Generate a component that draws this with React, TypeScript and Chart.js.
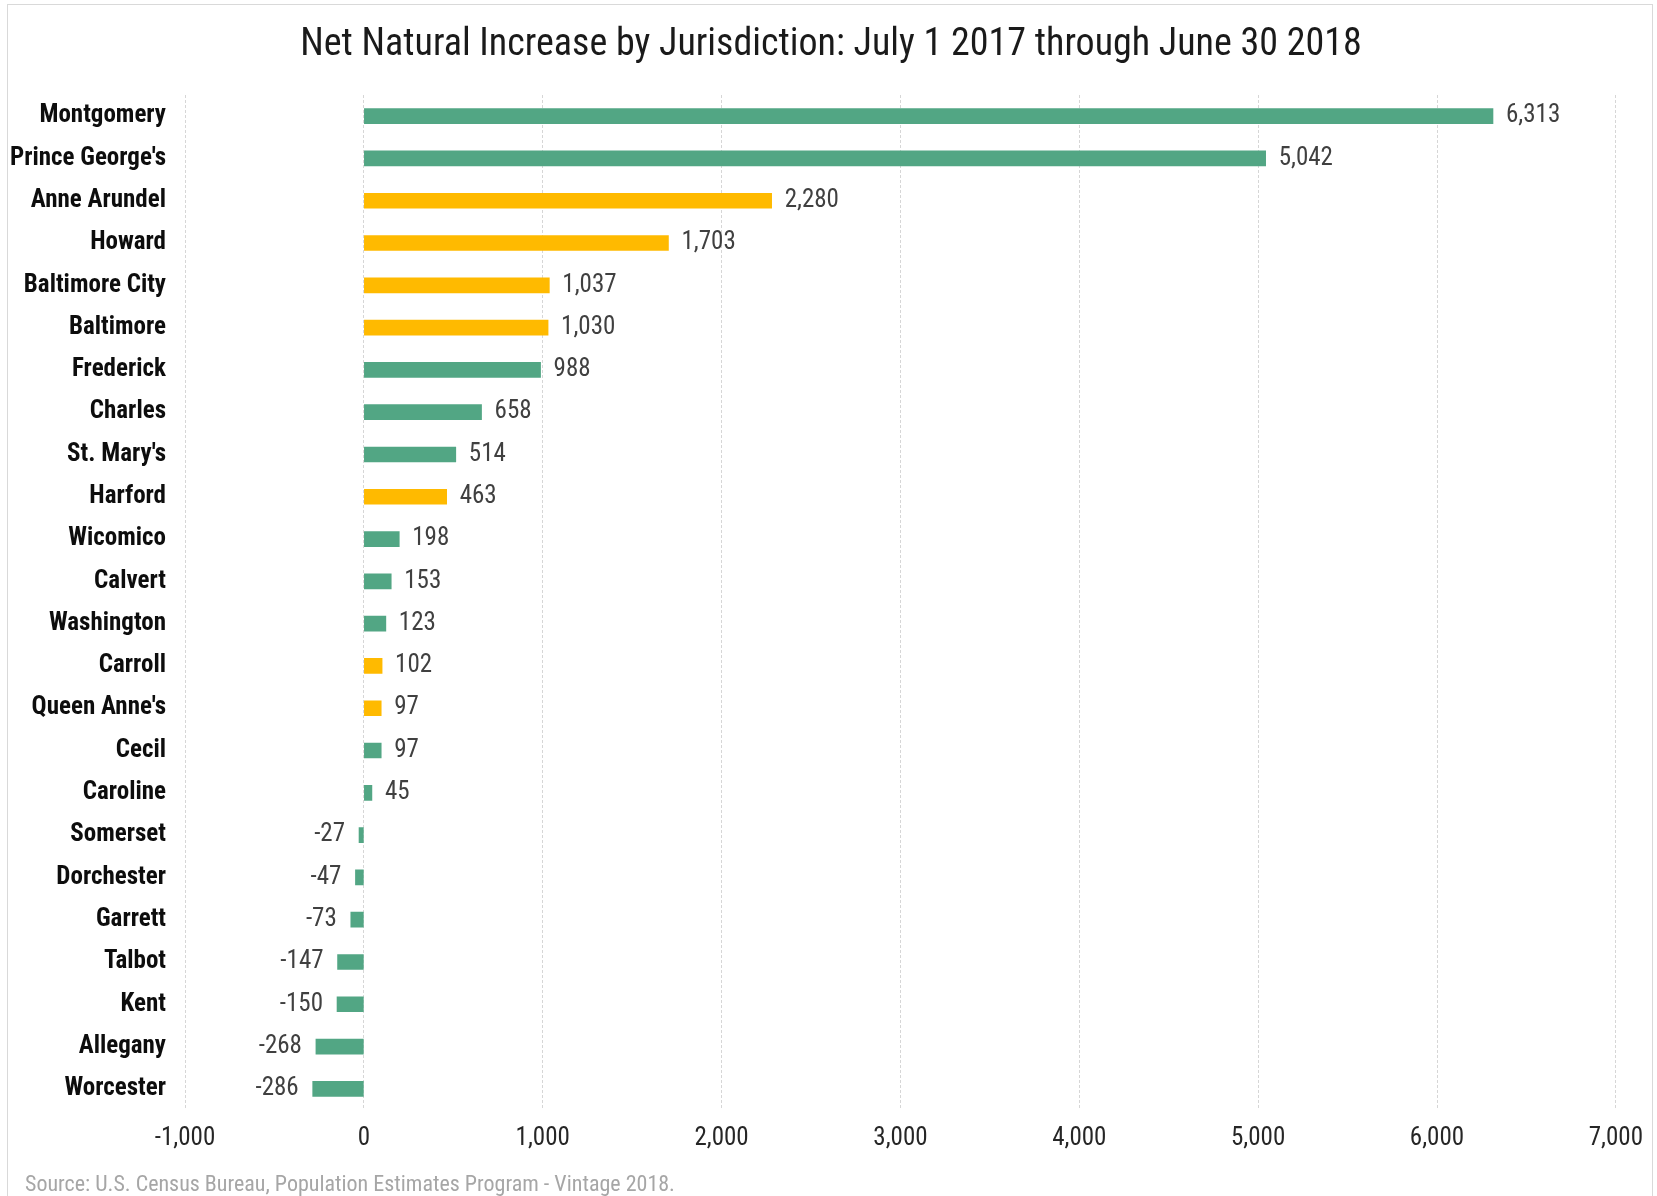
import React, { useEffect, useRef } from "react";
import { Chart, registerables } from "chart.js";

Chart.register(...registerables);

const TITLE = "Net Natural Increase by Jurisdiction: July 1 2017 through June 30 2018";
const SOURCE = "Source: U.S. Census Bureau, Population Estimates Program - Vintage 2018.";

const jurisdictions = [
  "Montgomery", "Prince George's", "Anne Arundel", "Howard", "Baltimore City", "Baltimore",
  "Frederick", "Charles", "St. Mary's", "Harford", "Wicomico", "Calvert", "Washington",
  "Carroll", "Queen Anne's", "Cecil", "Caroline", "Somerset", "Dorchester", "Garrett",
  "Talbot", "Kent", "Allegany", "Worcester",
];

const netIncrease = [
  6313, 5042, 2280, 1703, 1037, 1030, 988, 658, 514, 463, 198, 153, 123, 102, 97, 97, 45,
  -27, -47, -73, -147, -150, -268, -286,
];

// true = highlighted (yellow) jurisdictions
const highlighted = [
  false, false, true, true, true, true, false, false, false, true, false, false, false,
  true, true, false, false, false, false, false, false, false, false, false,
];

const GREEN = "#52A684";
const YELLOW = "#FFBA00";
const COND = '"Roboto Condensed", "Liberation Sans Narrow", "DejaVu Sans Condensed", Roboto, sans-serif';

const fmt = (v: number) => v.toLocaleString("en-US");

const valueLabels = {
  id: "valueLabels",
  afterDatasetsDraw(chart: any) {
    const ctx = chart.ctx;
    const meta = chart.getDatasetMeta(0);
    ctx.save();
    ctx.font = `25px ${COND}`;
    ctx.fillStyle = "#404040";
    ctx.textBaseline = "middle";
    meta.data.forEach((bar: any, i: number) => {
      const v = netIncrease[i];
      if (v >= 0) {
        ctx.textAlign = "left";
        ctx.fillText(fmt(v), bar.x + 13, bar.y);
      } else {
        ctx.textAlign = "right";
        ctx.fillText(fmt(v), bar.x - 14, bar.y);
      }
    });
    ctx.restore();
  },
};

const texts = {
  id: "texts",
  afterDraw(chart: any) {
    const ctx = chart.ctx;
    ctx.save();
    ctx.font = `38px ${COND}`;
    ctx.fillStyle = "#1a1a1a";
    ctx.textAlign = "center";
    ctx.textBaseline = "middle";
    ctx.fillText(TITLE, 831, 45);
    ctx.font = `22px ${COND}`;
    ctx.fillStyle = "#a6a6a6";
    ctx.textAlign = "left";
    ctx.fillText(SOURCE, 25, 1185);
    ctx.restore();
  },
};

export default function App() {
  const ref = useRef<HTMLCanvasElement | null>(null);

  useEffect(() => {
    if (!ref.current) return;
    const chart = new Chart(ref.current, {
      type: "bar",
      data: {
        labels: jurisdictions,
        datasets: [
          {
            data: netIncrease,
            backgroundColor: highlighted.map((h) => (h ? YELLOW : GREEN)),
            barThickness: 15,
            borderWidth: 0,
          },
        ],
      },
      options: {
        indexAxis: "y",
        animation: false,
        responsive: false,
        maintainAspectRatio: false,
        layout: { padding: { left: 0, right: 41, top: 95, bottom: 0 } },
        plugins: {
          legend: { display: false },
          tooltip: { enabled: false },
          title: { display: false },
        },
        scales: {
          x: {
            min: -1000,
            max: 7000,
            ticks: {
              stepSize: 1000,
              color: "#262626",
              font: { family: COND, size: 25 },
              padding: 14,
              callback: (v: any) => fmt(Number(v)),
            },
            grid: { color: "#d6d6d6", lineWidth: 1, drawTicks: false },
            border: { display: false, dash: [3, 2] },
            afterFit: (s: any) => {
              s.height = 86;
            },
          },
          y: {
            ticks: {
              color: "#0d0d0d",
              font: { family: COND, size: 25, weight: "bold" },
              padding: 19,
            },
            grid: { display: false, drawTicks: false },
            border: { display: false },
            afterFit: (s: any) => {
              s.width = 185;
            },
          },
        },
      },
      plugins: [valueLabels, texts],
    });
    return () => chart.destroy();
  }, []);

  return (
    <div style={{ position: "fixed", left: 0, top: 0, width: 1657, height: 1196, background: "#fff" }}>
      <div
        style={{
          position: "absolute",
          left: 7,
          top: 4,
          width: 1646,
          height: 1300,
          border: "1px solid #d9d9d9",
          boxSizing: "border-box",
        }}
      />
      <canvas ref={ref} width={1657} height={1196} style={{ position: "absolute", left: 0, top: 0 }} />
    </div>
  );
}
